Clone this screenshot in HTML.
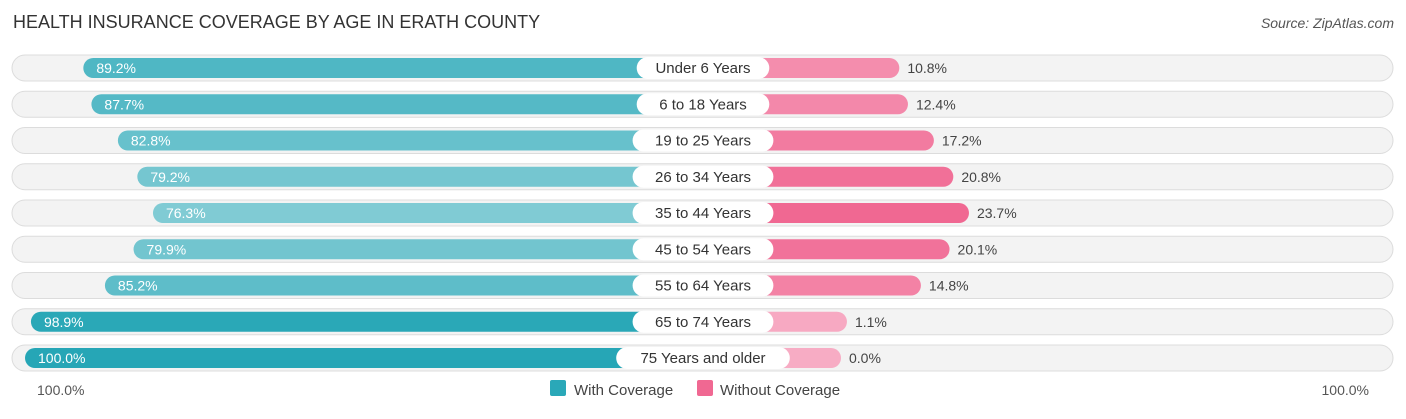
<!DOCTYPE html>
<html><head><meta charset="utf-8"><style>
body{margin:0;background:#fff;font-family:"Liberation Sans",sans-serif;}
</style></head><body>
<svg id="c" width="1406" height="414" xmlns="http://www.w3.org/2000/svg" style="font-family:'Liberation Sans',sans-serif">
<text x="13" y="28" font-size="18" fill="#333">HEALTH INSURANCE COVERAGE BY AGE IN ERATH COUNTY</text>
<text x="1394" y="28" font-size="14" fill="#555" font-style="italic" text-anchor="end">Source: ZipAtlas.com</text>
<text x="37" y="395" font-size="14" fill="#555">100.0%</text>
<text x="1369" y="395" font-size="14" fill="#555" text-anchor="end">100.0%</text>
<rect x="550" y="380" width="16" height="16" rx="2" fill="#2aa8b8"/>
<text x="574" y="395" font-size="15" fill="#444">With Coverage</text>
<rect x="697" y="380" width="16" height="16" rx="2" fill="#f06892"/>
<text x="720" y="395" font-size="15" fill="#444">Without Coverage</text>
<g id="rows"></g>
</svg>
<script>
const categories=["Under 6 Years","6 to 18 Years","19 to 25 Years","26 to 34 Years","35 to 44 Years","45 to 54 Years","55 to 64 Years","65 to 74 Years","75 Years and older"];
const withCoverage=[89.2,87.7,82.8,79.2,76.3,79.9,85.2,98.9,100.0];
const withoutCoverage=[10.8,12.4,17.2,20.8,23.7,20.1,14.8,1.1,0.0];
const cx=703, scale=5.4, off=138, y0=68, step=36.25;
const xL=v=>cx-off-v*scale, xR=v=>cx+off+v*scale;
function mix(a,b,t){return 'rgb('+a.map((c,i)=>Math.round(c+(b[i]-c)*t)).join(',')+')';}
const g=document.getElementById('rows'), NS='http://www.w3.org/2000/svg';
function el(t,a,p){const e=document.createElementNS(NS,t);for(const k in a)e.setAttribute(k,a[k]);(p||g).appendChild(e);return e;}
const wmin=Math.min(...withCoverage),wmax=Math.max(...withCoverage),omin=Math.min(...withoutCoverage),omax=Math.max(...withoutCoverage);
categories.forEach((c,i)=>{
  const y=y0+i*step;
  const row=el('g',{});
  
  
  const bg=el('rect',{x:12,y:y-13,width:1381,height:26,rx:13,fill:'#f3f3f3',stroke:'#dcdcdc','stroke-width':1},row);
  
  
  const w=withCoverage[i], o=withoutCoverage[i];
  const tw=(w-wmin)/((wmax-wmin)||1), to=(o-omin)/((omax-omin)||1);
  const b1=el('rect',{x:xL(w),y:y-10,width:cx-xL(w),height:20,rx:10,fill:mix([128,203,212],[38,166,182],tw)},row);
  
  
  const b2=el('rect',{x:cx,y:y-10,width:xR(o)-cx,height:20,rx:10,fill:mix([247,172,196],[240,104,146],to)},row);
  
  
  const t1=el('text',{x:xL(w)+13,y:y+5,'font-size':14,fill:'#fff'},row);t1.textContent=w.toFixed(1)+'%';
  
  
  const t2=el('text',{x:xR(o)+8,y:y+5,'font-size':14,fill:'#444'},row);t2.textContent=o.toFixed(1)+'%';
  
  
  const lw=c.length*8.2+26;
  const p=el('rect',{x:cx-lw/2,y:y-11,width:lw,height:22,rx:11,fill:'#fff'},row);
  
  
  const lt=el('text',{x:cx,y:y+5,'font-size':15,fill:'#333','text-anchor':'middle'},row);lt.textContent=c;
  
  
});
</script>
</body></html>
